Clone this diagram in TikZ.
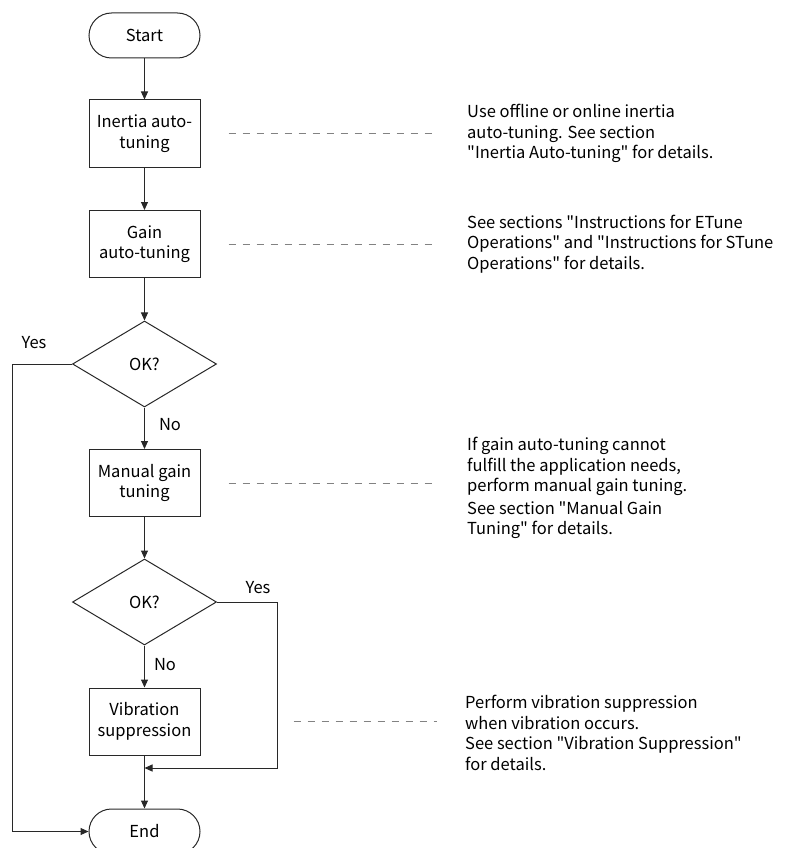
\documentclass[tikz,border=0pt]{standalone}
\usepackage{fontspec}
\setmainfont{Noto Sans CJK SC}[Ligatures=TeXOff]
\usetikzlibrary{shapes.geometric,shapes.misc,arrows.meta}
\definecolor{linegray}{RGB}{40,40,40}
\definecolor{guidegray}{RGB}{130,130,130}
\tikzstyle{terminal}=[rounded rectangle, draw=linegray, line width=1pt, minimum width=111pt, minimum height=45pt, inner sep=0pt]
\tikzstyle{process}=[rectangle, draw=linegray, line width=1pt, minimum width=111pt, minimum height=67pt, inner sep=0pt, align=center]
\tikzstyle{decision}=[diamond, draw=linegray, line width=1pt, minimum width=144pt, minimum height=86pt, inner sep=0pt]
\tikzstyle{note}=[anchor=west, align=left, inner sep=0pt]
\tikzstyle{flow}=[draw=linegray, line width=1pt, -{Triangle[length=8pt,width=7pt]}]
\tikzstyle{guide}=[guidegray, line width=0.9pt, dash pattern=on 7pt off 7pt]

\begin{document}
\begin{tikzpicture}[x=1pt, y=-1pt, font=\fontsize{16.5}{20.5}\selectfont]
				\useasboundingbox (0,0) rectangle (785,848);
				
				\node[terminal] (start) at (144.5,35.5) {Start};
				\node[process] (inertia) at (144.5,133.5) {Inertia auto-\\tuning};
				\node[process] (gain) at (144.5,244) {Gain\\auto-tuning};
				\node[decision] (ok1) at (144.5,364) {OK?};
				\node[process] (manual) at (144.5,483) {Manual gain\\tuning};
				\node[decision] (ok2) at (144.5,602) {OK?};
				\node[process] (vib) at (144.5,721.5) {Vibration\\suppression};
				\node[terminal] (stop) at (144.5,831.5) {End};
				
				\node (yes1) at (34,343) {Yes};
				\node (no1) at (170,425) {No};
				\node (yes2) at (258,588) {Yes};
				\node (no2) at (165,665) {No};
				
				\coordinate (lft) at (12,831.5);
				\coordinate (rgt) at (277,768);
				\coordinate (join) at (144.5,768);
				
				\draw[flow] (start) -- (inertia);
				\draw[flow] (inertia) -- (gain);
				\draw[flow] (gain) -- (ok1);
				\draw[flow] (ok1) -- (manual);
				\draw[flow] (manual) -- (ok2);
				\draw[flow] (ok2) -- (vib);
				\draw[flow] (vib) -- (stop);
				\draw[flow] (ok1.west) -| (lft) -- (stop.west);
				\draw[flow] (ok2.east) -| (rgt) -- (join);
				
				\node[note] (n1) at (467,133.5) {Use offline or online inertia\\auto-tuning. See section\\"Inertia Auto-tuning" for details.};
				\node[note] (n2) at (467,244) {See sections "Instructions for ETune\\Operations" and "Instructions for STune\\Operations" for details.};
				\node[note] (n3) at (467,488) {If gain auto-tuning cannot\\fulfill the application needs,\\perform manual gain tuning.\\[2pt]See section "Manual Gain\\Tuning" for details.};
				\node[note] (n4) at (465,733) {Perform vibration suppression\\when vibration occurs.\\See section "Vibration Suppression"\\for details.};
				
				\draw[guide, shorten <=28pt, shorten >=31pt] (inertia.east) -- (inertia.east -| n1.west);
				\draw[guide, shorten <=28pt, shorten >=31pt] (gain.east) -- (gain.east -| n2.west);
				\draw[guide, shorten <=28pt, shorten >=31pt] (manual.east) -- (manual.east -| n3.west);
				\draw[guide, shorten <=93pt, shorten >=28pt] (vib.east) -- (vib.east -| n4.west);
			\end{tikzpicture}
\end{document}
